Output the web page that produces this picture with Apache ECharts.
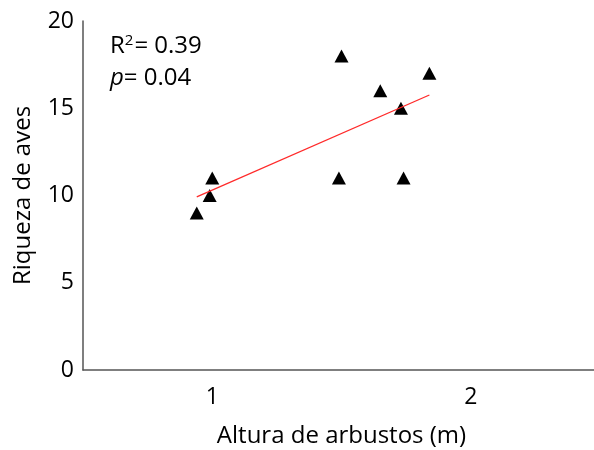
<!DOCTYPE html>
<html><head><meta charset="utf-8">
<script src="https://cdn.jsdelivr.net/npm/echarts@6/dist/echarts.min.js"></script>
<style>html,body{margin:0;padding:0;background:#fff}#c{width:594px;height:450px}</style>
</head><body><div id="c"></div>
<script>
// Data
const shrubHeight = [0.94, 0.99, 1.00, 1.49, 1.50, 1.65, 1.73, 1.74, 1.84];
const birdRichness = [9, 10, 11, 11, 18, 16, 15, 11, 17];
const fitX = [0.94, 1.84];
const fitY = [9.92, 15.76];
const xTicks = [1, 2];
const yTicks = [0, 5, 10, 15, 20];
const statsR2 = '0.39';
const statsP = '0.04';

const font = 'Open Sans';
const chart = echarts.init(document.getElementById('c'));
chart.setOption({
  animation: false,
  grid: { left: 83, width: 517, top: 21, bottom: 80, outerBoundsMode: 'none', containLabel: false },
  xAxis: {
    type: 'value', min: 0.5, max: 2.5, interval: 0.5,
    name: 'Altura de arbustos (m)', nameLocation: 'middle', nameGap: 54,
    nameTextStyle: { fontFamily: font, fontSize: 24, color: '#000' },
    axisLine: { show: true, lineStyle: { color: '#555', width: 1.5 } },
    axisTick: { show: false }, splitLine: { show: false },
    axisLabel: { fontFamily: font, fontSize: 23, color: '#000', margin: 16,
      formatter: v => xTicks.includes(Math.round(v*100)/100) ? String(v) : '' }
  },
  yAxis: {
    type: 'value', min: 0, max: 20, interval: 5,
    name: 'Riqueza de aves', nameLocation: 'middle', nameGap: 48,
    nameTextStyle: { fontFamily: font, fontSize: 24, color: '#000' },
    axisLine: { show: true, lineStyle: { color: '#555', width: 1.5 } },
    axisTick: { show: false }, splitLine: { show: false },
    axisLabel: { fontFamily: font, fontSize: 23, color: '#000', margin: 9,
      formatter: v => yTicks.includes(v) ? String(v) : '' }
  },
  graphic: [
    { type: 'text', left: 110, top: 33, style: {
      text: '{a|R}{s|2}{a|= ' + statsR2 + '}',
      rich: { a: { fontFamily: font, fontSize: 24, fill: '#000' },
              s: { fontFamily: font, fontSize: 15, fill: '#000', verticalAlign: 'top', padding: [0,1,12,0] } } } },
    { type: 'text', left: 110, top: 66, style: {
      text: '{i|p}{a|= ' + statsP + '}',
      rich: { a: { fontFamily: font, fontSize: 24, fill: '#000' },
              i: { fontFamily: font, fontSize: 24, fontStyle: 'italic', fill: '#000' } } } }
  ],
  series: [
    { type: 'line', data: fitX.map((x, i) => [x, fitY[i]]), symbol: 'none',
      lineStyle: { color: '#ff2a2a', width: 1.3 }, z: 3 },
    { type: 'scatter', data: shrubHeight.map((x, i) => [x, birdRichness[i]]),
      symbol: 'triangle', symbolSize: [14, 13], itemStyle: { color: '#000', opacity: 1 }, z: 2 }
  ]
});
</script></body></html>
